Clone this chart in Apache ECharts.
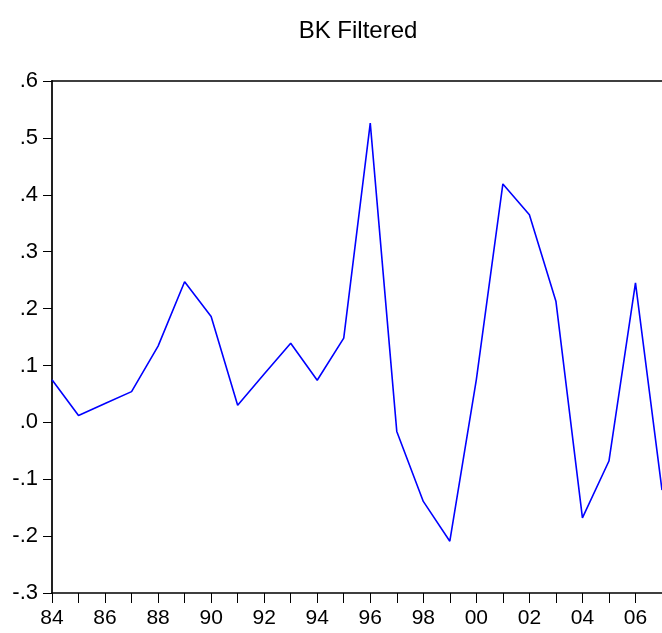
<!DOCTYPE html>
<html>
<head>
<meta charset="utf-8">
<script src="https://cdn.jsdelivr.net/npm/echarts@6/dist/echarts.min.js"></script>
<style>
html,body{margin:0;padding:0;background:#fff;}
#chart{width:662px;height:633px;}
</style>
</head>
<body>
<div id="chart"></div>
<script>
var titleText = "BK Filtered";
var years = [1984,1985,1986,1987,1988,1989,1990,1991,1992,1993,1994,1995,1996,1997,1998,1999,2000,2001,2002,2003,2004,2005,2006,2007];
var bkValues = [0.075,0.012,0.033,0.054,0.134,0.247,0.186,0.030,0.085,0.139,0.074,0.148,0.526,-0.016,-0.139,-0.209,0.075,0.419,0.365,0.213,-0.168,-0.068,0.245,-0.119];

var data = years.map(function(y,i){return [y,bkValues[i]];});
var font = "'Liberation Sans', Arial, sans-serif";

function yFmt(v){
  var r = Math.round(v*10)/10;
  var s = Math.abs(r).toFixed(1).replace(/^0/,'');
  return (r < 0 ? '-' : '') + s;
}

var chart = echarts.init(document.getElementById('chart'), null, {renderer:'canvas'});
chart.setOption({
  animation:false,
  backgroundColor:'#fff',
  title:{
    text:titleText,
    left:353, top:14, textAlign:'center',
    textStyle:{fontFamily:font,fontSize:24,fontWeight:'normal',color:'#000'}
  },
  grid:{left:52,right:0,top:81,bottom:40,containLabel:false},
  xAxis:[{
    type:'value', min:1984, max:2007, interval:1,
    axisLine:{show:true,onZero:false,lineStyle:{color:'#000',width:1.5}},
    axisTick:{show:true,length:10,inside:false,lineStyle:{color:'#000',width:1}},
    axisLabel:{
      fontFamily:font,fontSize:21,color:'#000',margin:15,
      showMaxLabel:false,
      formatter:function(v){ if(v%2!==0) return ''; return String(v).slice(2); }
    },
    splitLine:{show:false}
  },{
    type:'value', min:1984, max:2007, position:'top',
    axisLine:{show:true,onZero:false,lineStyle:{color:'#000',width:1.5}},
    axisTick:{show:false}, axisLabel:{show:false}, splitLine:{show:false}
  }],
  yAxis:{
    type:'value', min:-0.3, max:0.6, interval:0.1,
    axisLine:{show:true,onZero:false,lineStyle:{color:'#222',width:2}},
    axisTick:{show:true,length:9,inside:false,lineStyle:{color:'#000',width:1}},
    axisLabel:{fontFamily:font,fontSize:22,color:'#000',margin:14,formatter:yFmt},
    splitLine:{show:false}
  },
  series:[{
    type:'line', xAxisIndex:0, data:data,
    symbol:'none', smooth:false,
    lineStyle:{color:'#0000ff',width:1.6},
    clip:true
  }]
});
</script>
</body>
</html>
